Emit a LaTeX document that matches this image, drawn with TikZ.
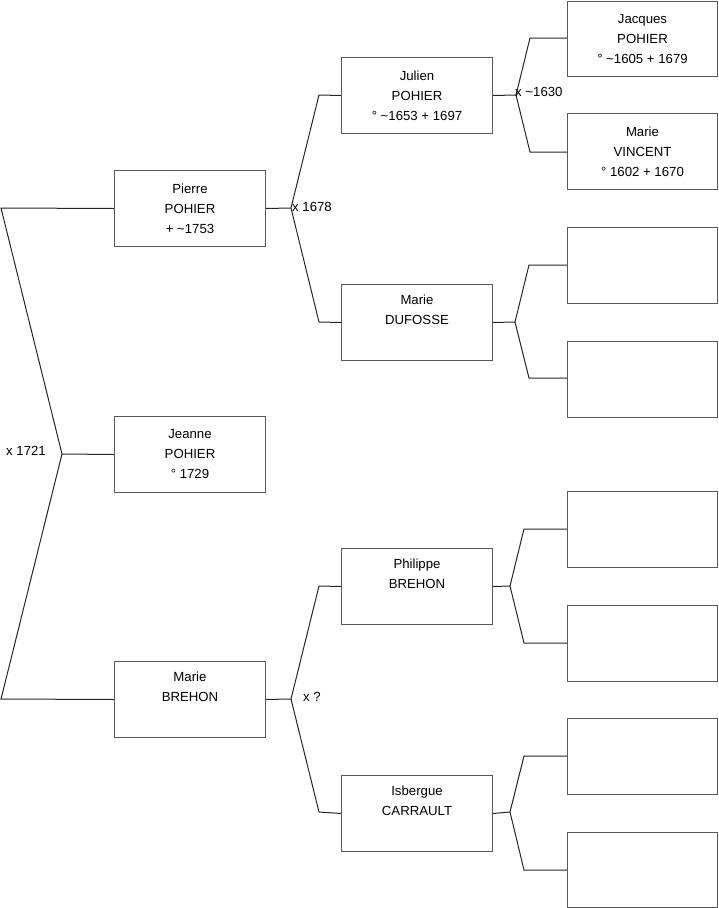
\documentclass[tikz,border=0pt]{standalone}
\usepackage{fontspec}
\setmainfont{Liberation Sans}
\begin{document}
\begin{tikzpicture}[x=1pt,y=-1pt,
  person/.style={draw=black!65,line width=1pt,fill=white,anchor=north west,
    minimum width=151pt,minimum height=76pt,inner sep=0pt,align=center,
    font=\fontsize{13.2pt}{20pt}\selectfont},
  lastcol/.style={person,minimum width=150pt},
  conn/.style={draw=black!85,line width=1pt},
  mlabel/.style={font=\fontsize{13.2pt}{15pt}\selectfont,inner sep=0pt}]
\useasboundingbox (0,0) rectangle (719,908);
% column 1
\node[person] (pierre) at (114,170) {Pierre\\POHIER\\+ \textasciitilde1753};
\node[person] (jeanne) at (114,416) {Jeanne\\POHIER\\° 1729};
\node[person] (marieb) at (114,661) {Marie\\BREHON\\\strut};
% column 2
\node[person] (julien) at (341,57) {Julien\\POHIER\\° \textasciitilde1653 + 1697};
\node[person] (dufosse) at (341,284) {Marie\\DUFOSSE\\\strut};
\node[person] (philippe) at (341,548) {Philippe\\BREHON\\\strut};
\node[person] (isbergue) at (341,775) {Isbergue\\CARRAULT\\\strut};
% column 3
\node[lastcol,minimum height=75pt] (jacques) at (567,1) {Jacques\\POHIER\\° \textasciitilde1605 + 1679};
\node[lastcol] (vincent) at (567,113) {Marie\\VINCENT\\° 1602 + 1670};
\node[lastcol] (e1) at (567,227) {};
\node[lastcol] (e2) at (567,341) {};
\node[lastcol] (e3) at (567,491) {};
\node[lastcol] (e4) at (567,605) {};
\node[lastcol] (e5) at (567,718) {};
\node[lastcol,minimum height=75pt] (e6) at (567,832) {};
% fork points
\coordinate (a0) at (1,208); \coordinate (b0) at (1,699); \coordinate (f0) at (62,454);
\coordinate (f1) at (291,208); \coordinate (a1) at (319,95); \coordinate (b1) at (319,322);
\coordinate (f2) at (291,699); \coordinate (a2) at (319,586); \coordinate (b2) at (319,812);
\coordinate (f3) at (516,95); \coordinate (a3) at (530,38); \coordinate (b3) at (530,152);
\coordinate (f4) at (515,322); \coordinate (a4) at (529,265); \coordinate (b4) at (529,378);
\coordinate (f5) at (510,586); \coordinate (a5) at (524,529); \coordinate (b5) at (524,643);
\coordinate (f6) at (510,812); \coordinate (a6) at (524,756); \coordinate (b6) at (524,870);
% connectors
\draw[conn] (pierre.west) -- (a0) -- (f0) -- (b0) -- (marieb.west);
\draw[conn] (f0) -- (jeanne.west);
\draw[conn] (pierre.east) -- (f1);
\draw[conn] (julien.west) -- (a1) -- (f1) -- (b1) -- (dufosse.west);
\draw[conn] (marieb.east) -- (f2);
\draw[conn] (philippe.west) -- (a2) -- (f2) -- (b2) -- (isbergue.west);
\draw[conn] (julien.east) -- (f3);
\draw[conn] (jacques.west |- a3) -- (a3) -- (f3) -- (b3) -- (vincent.west |- b3);
\draw[conn] (dufosse.east) -- (f4);
\draw[conn] (e1.west |- a4) -- (a4) -- (f4) -- (b4) -- (e2.west |- b4);
\draw[conn] (philippe.east) -- (f5);
\draw[conn] (e3.west |- a5) -- (a5) -- (f5) -- (b5) -- (e4.west |- b5);
\draw[conn] (isbergue.east) -- (f6);
\draw[conn] (e5.west |- a6) -- (a6) -- (f6) -- (b6) -- (e6.west |- b6);
% marriage labels
\node[mlabel,anchor=east] (m0) at (46,451) {x 1721};
\node[mlabel,anchor=west] (m1) at (292,207) {x 1678};
\node[mlabel,anchor=west] (m3) at (515,92) {x \textasciitilde1630};
\node[mlabel,anchor=west] (m2) at (303,697) {x ?};
\end{tikzpicture}
\end{document}
